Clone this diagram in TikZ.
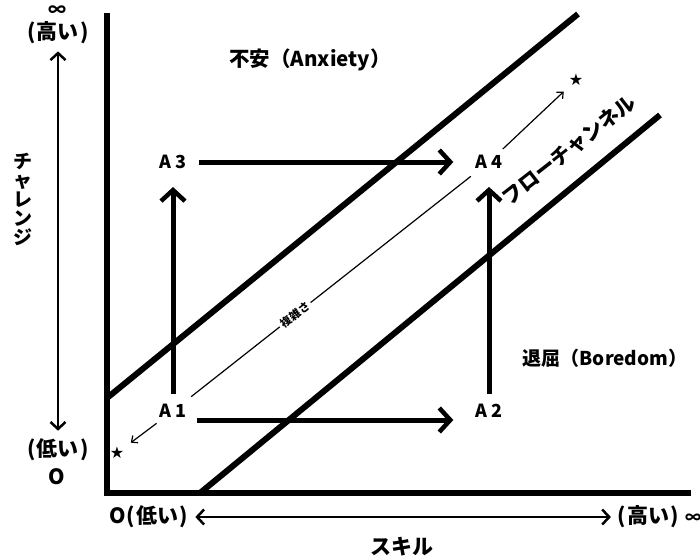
\documentclass[tikz,border=0pt]{standalone}
\usepackage{fontspec}
\setmainfont{Noto Sans CJK JP}
\newfontfamily\symf{DejaVu Sans}
\usetikzlibrary{arrows.meta}
\newcommand{\lp}{(\kern1.5pt}
\newcommand{\rp}{\kern1.5pt)}
\tikzset{
  txt/.style={font=\bfseries\fontsize{#1}{#1}\selectfont, inner sep=0pt},
  lbl/.style={font=\bfseries\fontsize{18}{18}\selectfont, inner sep=0pt},
  heavy/.style={line width=6pt},
  thickarrow/.style={line width=5pt, -{Straight Barb[length=11pt,width=24pt,line width=4.5pt]}},
  axisarrow/.style={line width=2.5pt, {Straight Barb[length=7pt,width=15pt]}-{Straight Barb[length=7pt,width=15pt]}},
  thinline/.style={line width=1.2pt},
  thinarrow/.style={line width=1.2pt, -{Straight Barb[length=5pt,width=9pt]}},
  starnode/.style={font=\symf\fontsize{16}{16}\selectfont, inner sep=0pt}
}
\begin{document}
\begin{tikzpicture}[x=1pt,y=-1pt]
\useasboundingbox[fill=white] (0,0) rectangle (700,559);

% axes and channel boundaries
\draw[heavy, line join=miter] (107,13) -- (107,493) -- (691,493);
\draw[heavy] (107,398) -- (578,14);
\draw[heavy] (200,493) -- (660,115);

% state labels
\node[lbl] (A1) at (173,411) {A 1};
\node[lbl] (A2) at (489,411) {A 2};
\node[lbl] (A3) at (173,162) {A 3};
\node[lbl] (A4) at (489,162) {A 4};

% stars
\node[starnode] (s1) at (576,80) {★};
\node[starnode] (s2) at (117,453) {★};

% complexity line
\draw[thinline, shorten <=12pt, shorten >=12pt] (A1) -- node[pos=0.38, sloped, fill=white, txt=11, inner sep=3pt] (cx) {複雑さ} (A4);
\draw[thinarrow, shorten <=9pt, shorten >=8pt] (A4) -- (s1);
\draw[thinarrow, shorten <=9pt, shorten >=8pt] (A1) -- (s2);

% thick arrows
\draw[thickarrow] ([xshift=12pt]A3.east) -- ([xshift=-22pt]A4.west);
\draw[thickarrow] ([xshift=10pt,yshift=-9pt]A1.east) -- ([xshift=-22pt,yshift=-9pt]A2.west);
\draw[thickarrow] ([yshift=10pt]A1.north) -- ([yshift=-18pt]A3.south);
\draw[thickarrow] ([yshift=10pt]A2.north) -- ([yshift=-18pt]A4.south);

% region labels
\node[txt=20.5] (anx) at (310,60) {不安（Anxiety）};
\node[txt=19] (bor) at (605,358) {退屈（Boredom）};
\node[txt=20.5, rotate=38] (fc) at (569,150) {フローチャンネル};

% vertical axis labels
\node[txt=18] (inf1) at (57,11) {∞};
\node[txt=21] (hi) at (58,33) {\lp 高い\rp};
\node[txt=21] (lo) at (58,450) {\lp 低い\rp};
\node[txt=21] (zero) at (57,477) {O};
\node[font=\bfseries\fontsize{19}{19}\selectfont, inner sep=0pt, align=center] (ch) at (23,199) {チ\\ャ\\レ\\ン\\ジ};
\draw[axisarrow, shorten <=7pt, shorten >=8pt] (hi) -- (lo);

% horizontal axis labels
\node[txt=21] (lo2) at (149,517) {O\lp 低い\rp};
\node[txt=21] (hi2) at (648,517) {\lp 高い\rp};
\node[txt=16] (inf2) at (693,519) {∞};
\node[txt=21] (sk) at (402,547) {スキル};
\draw[axisarrow, shorten <=7pt, shorten >=6pt] (lo2) -- (hi2);
\end{tikzpicture}
\end{document}
